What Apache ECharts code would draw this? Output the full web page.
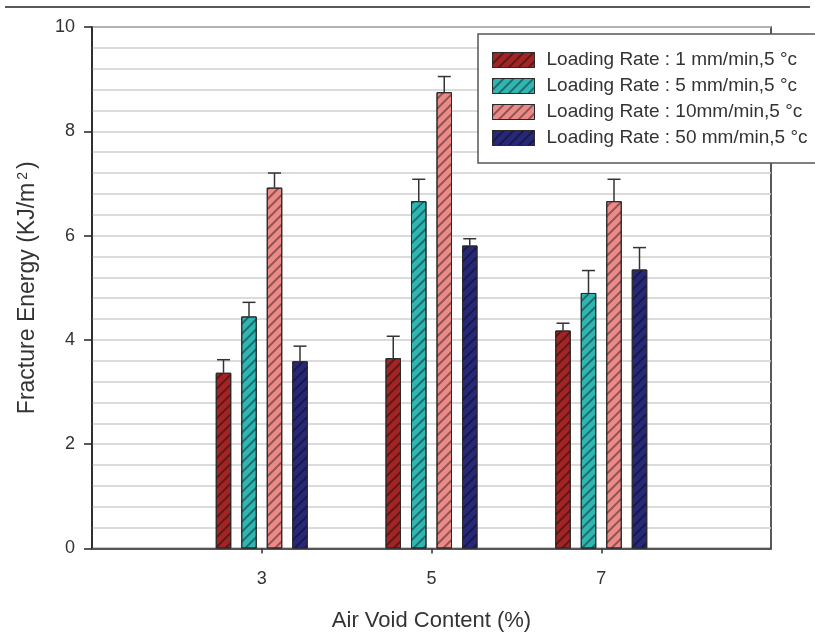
<!DOCTYPE html>
<html>
<head>
<meta charset="utf-8">
<script src="https://cdn.jsdelivr.net/npm/echarts@6/dist/echarts.min.js"></script>
<style>
html,body{margin:0;padding:0;background:#fff;}
#chart{width:815px;height:632px;}
</style>
</head>
<body>
<div id="chart"></div>
<script>
// ---- data ----
const categories = ['3', '5', '7'];
const seriesNames = [
  'Loading Rate : 1 mm/min,5 \u00b0c',
  'Loading Rate : 5 mm/min,5 \u00b0c',
  'Loading Rate : 10mm/min,5 \u00b0c',
  'Loading Rate : 50 mm/min,5 \u00b0c'
];
const rate1 = [3.37, 3.65, 4.18];
const rate5 = [4.45, 6.66, 4.90];
const rate10 = [6.92, 8.75, 6.66];
const rate50 = [3.59, 5.81, 5.35];
const err1 = [0.25, 0.42, 0.14];
const err5 = [0.27, 0.42, 0.43];
const err10 = [0.28, 0.30, 0.42];
const err50 = [0.29, 0.13, 0.42];
const yTicks = [0, 2, 4, 6, 8, 10];

// ---- styling ----
const colors = ['#a32424', '#2fb6b2', '#ec8a88', '#28287a'];
const FONT = 'Liberation Sans, Arial, sans-serif';
const BAR_W = 15.5;
const BAR_GAP = 10;

const values = [rate1, rate5, rate10, rate50];
const errs = [err1, err5, err10, err50];
// padded axis: empty slot on each side
const axisCats = [''].concat(categories, ['']);

function decal() {
  return {
    symbol: 'rect',
    dashArrayX: [1, 0],
    dashArrayY: [1.1, 4.6],
    rotation: -Math.PI / 4,
    color: 'rgba(0,0,0,0.4)'
  };
}

const series = [];
values.forEach((vals, i) => {
  series.push({
    name: seriesNames[i],
    type: 'bar',
    barWidth: BAR_W,
    barGap: (BAR_GAP / BAR_W * 100) + '%',
    data: ['-'].concat(vals, ['-']),
    itemStyle: {
      color: colors[i],
      borderColor: '#2a2a2a',
      borderWidth: 1,
      decal: decal()
    },
    z: 2
  });
});
values.forEach((vals, i) => {
  const offset = (i - 1.5) * (BAR_W + BAR_GAP);
  series.push({
    type: 'custom',
    name: 'err' + i,
    z: 3,
    silent: true,
    encode: { x: 0, y: 1 },
    data: vals.map((v, k) => [k + 1, v, v + errs[i][k]]),
    renderItem: function (params, api) {
      const base = api.coord([api.value(0), api.value(1)]);
      const top = api.coord([api.value(0), api.value(2)]);
      const x = base[0] + offset;
      const capHalf = 6.5;
      const st = { stroke: '#333', lineWidth: 1.5 };
      return {
        type: 'group',
        children: [
          { type: 'line', shape: { x1: x, y1: base[1], x2: x, y2: top[1] }, style: st },
          { type: 'line', shape: { x1: x - capHalf, y1: top[1], x2: x + capHalf, y2: top[1] }, style: st }
        ]
      };
    }
  });
});

const chart = echarts.init(document.getElementById('chart'));
chart.setOption({
  animation: false,
  backgroundColor: '#fff',
  aria: { enabled: false },
  textStyle: { fontFamily: FONT },
  grid: {
    left: 92, right: 44, top: 27, bottom: 83.5,
    containLabel: false,
    outerBoundsMode: 'none',
    show: true, borderColor: '#222', borderWidth: 1.5, backgroundColor: 'transparent'
  },
  legend: {
    orient: 'vertical',
    left: 478, top: 34,
    padding: [16.5, 30, 15.5, 14],
    itemWidth: 42, itemHeight: 15, itemGap: 7,
    icon: 'rect',
    backgroundColor: '#fff',
    borderColor: '#555', borderWidth: 1.5,
    data: seriesNames,
    textStyle: { fontFamily: FONT, fontSize: 19, color: '#333', padding: [0, 0, 0, 7] },
    itemStyle: { borderColor: '#2a2a2a', borderWidth: 1 },
    z: 10
  },
  xAxis: {
    type: 'category',
    data: axisCats,
    boundaryGap: false,
    name: 'Air Void Content (%)',
    nameLocation: 'middle',
    nameGap: 61,
    nameTextStyle: { fontFamily: FONT, fontSize: 22, color: '#333' },
    axisLine: { lineStyle: { color: '#555', width: 2 } },
    axisTick: {
      show: true, length: 5, lineStyle: { color: '#333', width: 1.5 },
      interval: function (idx) { return idx > 0 && idx < axisCats.length - 1; }
    },
    axisLabel: {
      fontSize: 18, color: '#333', margin: 22, fontFamily: FONT,
      interval: 0
    },
    splitLine: { show: false }
  },
  yAxis: {
    type: 'value',
    min: yTicks[0], max: yTicks[yTicks.length - 1], interval: yTicks[1] - yTicks[0],
    name: 'Fracture Energy (KJ/m{sup|2}{par|)}',
    nameLocation: 'middle',
    nameGap: 52,
    nameTextStyle: {
      fontFamily: FONT, fontSize: 23, color: '#333',
      rich: {
        sup: { fontSize: 14, verticalAlign: 'top', padding: [0, 3, 10, 3], fontFamily: FONT, color: '#333' },
        par: { fontSize: 23, fontFamily: FONT, color: '#333' }
      }
    },
    axisLine: { show: true, lineStyle: { color: '#222', width: 1.5 } },
    axisTick: { show: true, length: 8, lineStyle: { color: '#222', width: 1.5 } },
    axisLabel: { fontSize: 18, color: '#333', margin: 17, fontFamily: FONT },
    splitLine: { show: true, lineStyle: { color: '#cfcfcf', width: 1.5 } },
    minorTick: { show: false, splitNumber: 5 },
    minorSplitLine: { show: true, lineStyle: { color: '#cfcfcf', width: 1.5 } }
  },
  graphic: [
    { type: 'line', shape: { x1: 5, y1: 7, x2: 810, y2: 7 }, style: { stroke: '#222', lineWidth: 1.5 } }
  ],
  series: series
});
</script>
</body>
</html>
